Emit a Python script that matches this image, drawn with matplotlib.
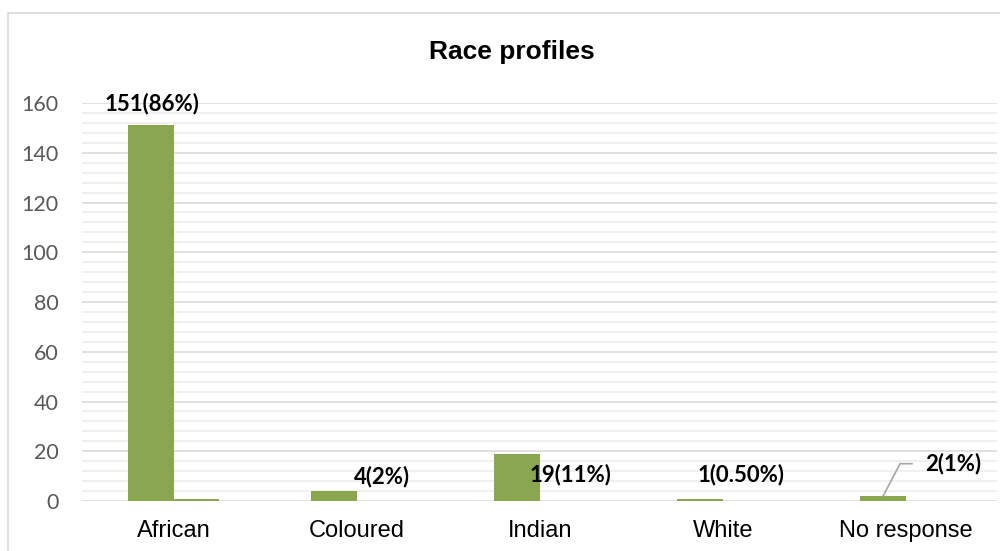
import numpy as np
import matplotlib.pyplot as plt
from matplotlib.ticker import MultipleLocator
from matplotlib.patches import Rectangle

categories = ['African', 'Coloured', 'Indian', 'White', 'No response']
counts = [151, 4, 19, 1, 2]
shares = [0.86, 0.02, 0.11, 0.005, 0.01]
labels = ['151(86%)', '4(2%)', '19(11%)', '1(0.50%)', '2(1%)']

green = '#8ba650'

fig = plt.figure(figsize=(10, 5.51), dpi=100)
ax = fig.add_axes([0.082, 0.0907, 0.9155, 0.7223])

# frame of the chart area (cut at the right and bottom like the source)
fig.patches.append(Rectangle((0.008, -0.1), 1.2, 1.1 - 13 / 551, transform=fig.transFigure,
                             fill=False, edgecolor='#d9d9d9', lw=1.2))

x = np.arange(len(categories))
w = 0.25
ax.bar(x - w / 2, counts, w, color=green, zorder=3)
ax.bar(x + w / 2, shares, w, color=green, zorder=3)

ax.set_xlim(-0.5, 4.5)
ax.set_ylim(0, 160)
ax.yaxis.set_major_locator(MultipleLocator(20))
ax.yaxis.set_minor_locator(MultipleLocator(4))
ax.grid(which='major', axis='y', color='#d9d9d9', lw=1.1, zorder=0)
ax.grid(which='minor', axis='y', color='#ececec', lw=1.1, zorder=0)
ax.set_axisbelow(True)
for s in ax.spines.values():
    s.set_visible(False)

ax.set_xticks(x)
ax.set_xticklabels(categories, fontsize=17, family='Liberation Sans', color='black')
ax.tick_params(axis='x', length=0, pad=14)
ax.tick_params(axis='y', which='both', length=0, pad=17, labelsize=15.5, labelcolor='#595959')
for t in ax.get_yticklabels():
    t.set_family('Lato')

# data labels (Excel style, manually placed)
lab_font = dict(fontsize=16, fontweight='bold', family='Lato', color='black', va='center')
ax.text(x[0] - 0.12, 160, labels[0], ha='center', **lab_font)
ax.text(x[1] + 0.14, 10, labels[1], ha='center', **lab_font)
ax.text(x[2] + 0.17, 10.5, labels[2], ha='center', **lab_font)
ax.text(x[3] + 0.10, 10.5, labels[3], ha='center', **lab_font)
ax.text(x[4] + 0.107, 15, labels[4], ha='left', **lab_font)

# leader line for the last label
bx = x[4] - w / 2
ax.plot([bx, bx + 0.093, bx + 0.158], [counts[4], 15, 15], color='#a6a6a6', lw=1.2, zorder=4)

fig.text(0.512, 1 - 52 / 551, 'Race profiles', ha='center', va='center',
         fontsize=19, fontweight='bold', family='Liberation Sans')

fig.savefig('out.png', dpi=100)
